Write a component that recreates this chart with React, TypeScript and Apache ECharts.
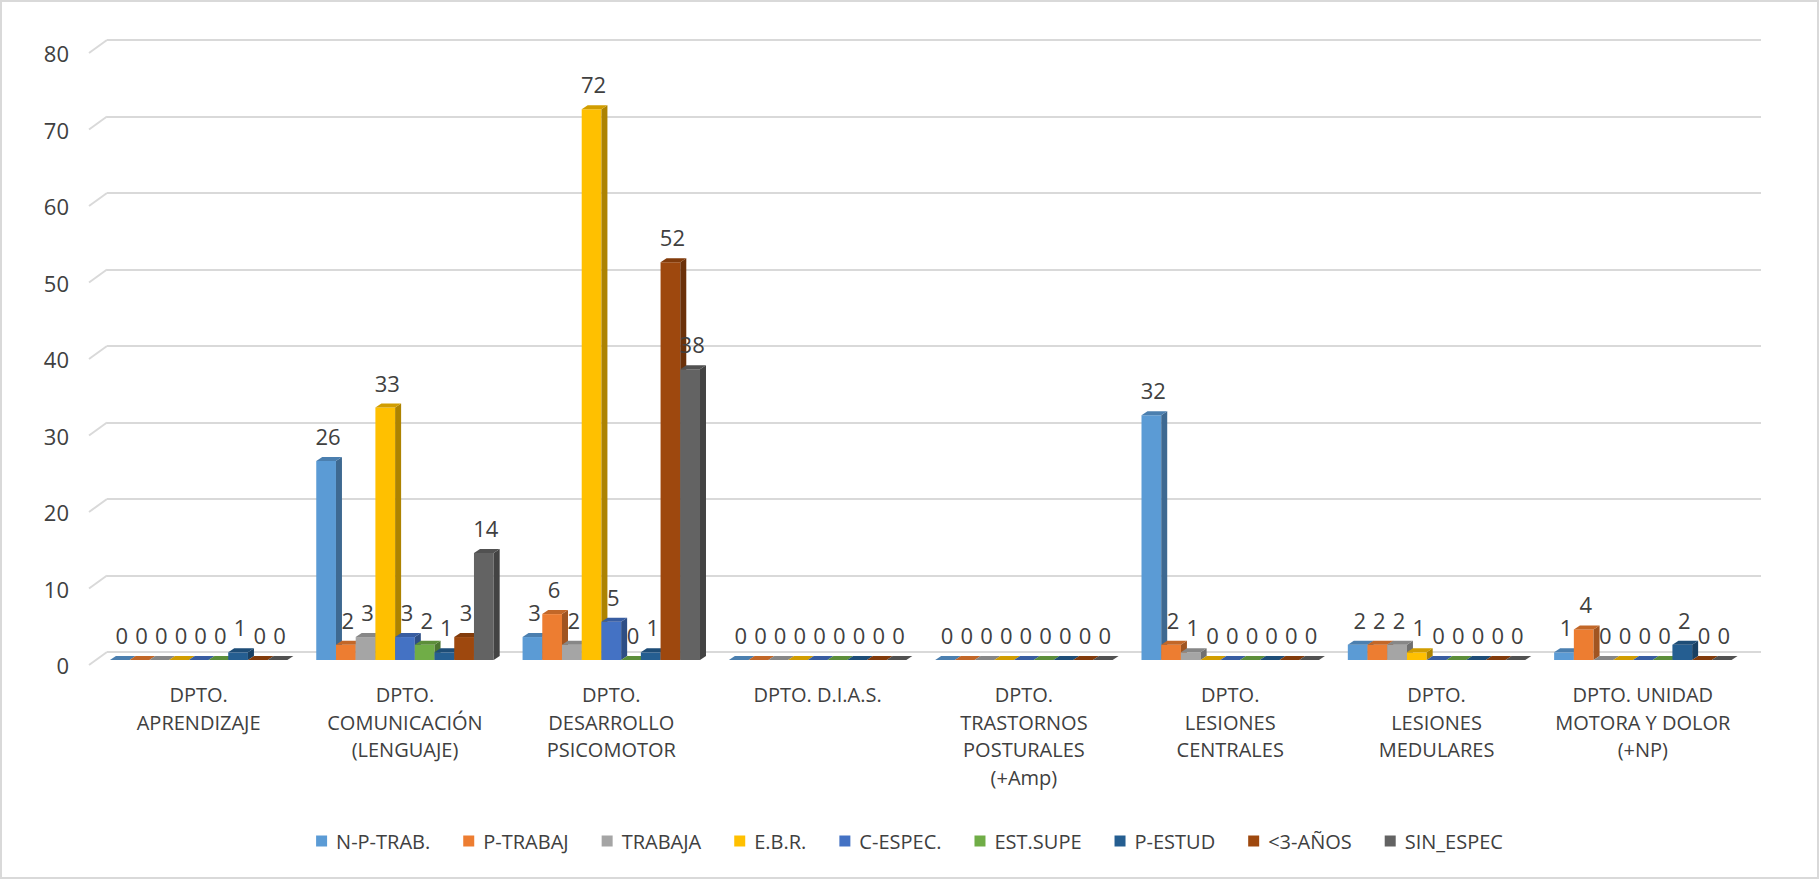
import React, { useEffect, useRef } from "react";
import * as echarts from "echarts";

const categories = [
  "DPTO.\nAPRENDIZAJE",
  "DPTO.\nCOMUNICACIÓN\n(LENGUAJE)",
  "DPTO.\nDESARROLLO\nPSICOMOTOR",
  "DPTO. D.I.A.S.",
  "DPTO.\nTRASTORNOS\nPOSTURALES\n(+Amp)",
  "DPTO.\nLESIONES\nCENTRALES",
  "DPTO.\nLESIONES\nMEDULARES",
  "DPTO. UNIDAD\nMOTORA Y DOLOR\n(+NP)",
];

const seriesNames = ["N-P-TRAB.", "P-TRABAJ", "TRABAJA", "E.B.R.", "C-ESPEC.", "EST.SUPE", "P-ESTUD", "<3-AÑOS", "SIN_ESPEC"];
const colors = ["#5B9BD5", "#ED7D31", "#A5A5A5", "#FFC000", "#4472C4", "#70AD47", "#255E91", "#9E480E", "#636363"];

const npTrab = [0, 26, 3, 0, 0, 32, 2, 1];
const pTrabaj = [0, 2, 6, 0, 0, 2, 2, 4];
const trabaja = [0, 3, 2, 0, 0, 1, 2, 0];
const ebr = [0, 33, 72, 0, 0, 0, 1, 0];
const cEspec = [0, 3, 5, 0, 0, 0, 0, 0];
const estSupe = [0, 2, 0, 0, 0, 0, 0, 0];
const pEstud = [1, 1, 1, 0, 0, 0, 0, 2];
const menos3 = [0, 3, 52, 0, 0, 0, 0, 0];
const sinEspec = [0, 14, 38, 0, 0, 0, 0, 0];

const seriesValues = [npTrab, pTrabaj, trabaja, ebr, cEspec, estSupe, pEstud, menos3, sinEspec];
const yTicks = [0, 10, 20, 30, 40, 50, 60, 70, 80];

const FONT = "'Open Sans', 'Noto Sans', sans-serif";
const TEXT = "#404040";

function shade(hex: string, f: number) {
  const n = parseInt(hex.slice(1), 16);
  const r = Math.round(((n >> 16) & 255) * f);
  const g = Math.round(((n >> 8) & 255) * f);
  const b = Math.round((n & 255) * f);
  return `rgb(${r},${g},${b})`;
}

export default function App() {
  const ref = useRef<HTMLDivElement>(null);
  useEffect(() => {
    if (!ref.current) return;
    const chart = echarts.init(ref.current, undefined, { renderer: "svg" });
    const nS = seriesNames.length;
    const DX = 6;
    const DY = 4;

    const barSeries = seriesValues.map((vals, si) => ({
      type: "custom",
      name: seriesNames[si],
      xAxisIndex: 0,
      yAxisIndex: 0,
      itemStyle: { color: colors[si] },
      z: 10,
      clip: false,
      data: vals.map((v, i) => [i, v]),
      renderItem: (params: any, api: any) => {
        const cat = api.value(0);
        const val = api.value(1);
        const base = api.coord([cat, 0]);
        const top = api.coord([cat, val]);
        const catW = api.size([1, 0])[0];
        const bw = (catW * 0.86) / nS;
        const x0 = base[0] - (nS / 2) * bw + si * bw;
        const yb = base[1];
        const yt = top[1];
        const c = colors[si];
        const children: any[] = [];
        if (val > 0) {
          children.push({
            type: "rect",
            shape: { x: x0, y: yt, width: bw, height: yb - yt },
            style: { fill: c },
          });
          children.push({
            type: "polygon",
            shape: { points: [[x0 + bw, yt], [x0 + bw + DX, yt - DY], [x0 + bw + DX, yb - DY], [x0 + bw, yb]] },
            style: { fill: shade(c, 0.68) },
          });
        }
        children.push({
          type: "polygon",
          shape: { points: [[x0, yt], [x0 + bw, yt], [x0 + bw + DX, yt - DY], [x0 + DX, yt - DY]] },
          style: { fill: shade(c, 0.82) },
        });
        children.push({
          type: "text",
          x: x0 + bw / 2 + 2,
          y: yt - 25,
          style: {
            text: String(val),
            fill: TEXT,
            fontSize: 22,
            fontFamily: FONT,
            align: "center",
            verticalAlign: "middle",
          },
        });
        return { type: "group", children };
      },
    }));

    const slantSeries = {
      type: "custom",
      name: "slant",
      xAxisIndex: 2,
      yAxisIndex: 2,
      silent: true,
      clip: false,
      z: 1,
      data: yTicks.map((v) => [0, v]),
      renderItem: (params: any, api: any) => {
        const p = api.coord([0, api.value(1)]);
        return {
          type: "line",
          shape: { x1: p[0], y1: p[1], x2: p[0] + 18, y2: p[1] - 13 },
          style: { stroke: "#D9D9D9", lineWidth: 2 },
        };
      },
    };

    chart.setOption({
      animation: false,
      backgroundColor: "#ffffff",
      textStyle: { fontFamily: FONT },
      graphic: [
        {
          type: "rect",
          shape: { x: 1, y: 1, width: 1817, height: 877 },
          style: { fill: "none", stroke: "#D9D9D9", lineWidth: 2 },
          silent: true,
        },
      ],
      legend: {
        data: seriesNames.map((n) => ({ name: n, icon: "rect" })),
        left: "center",
        top: 826,
        itemWidth: 11,
        itemHeight: 11,
        itemGap: 33,
        textStyle: { fontSize: 20, color: TEXT, fontFamily: FONT, padding: [0, 0, 0, 4] },
        selectedMode: false,
      },
      grid: [
        { left: 95.5, right: 73, top: 48, bottom: 219 },
        { left: 107, right: 58, top: 40, bottom: 227 },
        { left: 89, right: 58, top: 53, bottom: 214 },
      ],
      xAxis: [
        {
          type: "category",
          gridIndex: 0,
          data: categories,
          axisLine: { show: false },
          axisTick: { show: false },
          splitLine: { show: false },
          axisLabel: {
            interval: 0,
            margin: 21,
            fontSize: 20,
            lineHeight: 27.5,
            color: TEXT,
            fontFamily: FONT,
            align: "center",
          },
        },
        { type: "value", gridIndex: 1, show: false, min: 0, max: 1 },
        { type: "value", gridIndex: 2, show: false, min: 0, max: 1 },
      ],
      yAxis: [
        { type: "value", gridIndex: 0, min: 0, max: 80, interval: 10, show: false },
        {
          type: "value",
          gridIndex: 1,
          min: 0,
          max: 80,
          interval: 10,
          axisLabel: { show: false },
          axisLine: { show: false },
          axisTick: { show: false },
          splitLine: { show: true, lineStyle: { color: "#D9D9D9", width: 2 } },
        },
        {
          type: "value",
          gridIndex: 2,
          min: 0,
          max: 80,
          interval: 10,
          axisLine: { show: false },
          axisTick: { show: false },
          splitLine: { show: false },
          axisLabel: { margin: 20, fontSize: 22, color: TEXT, fontFamily: FONT },
        },
      ],
      series: [slantSeries, ...barSeries],
    } as any);
    return () => chart.dispose();
  }, []);
  return (
    <div
      ref={ref}
      style={{ position: "fixed", left: 0, top: 0, width: 1819, height: 879, background: "#fff" }}
    />
  );
}
